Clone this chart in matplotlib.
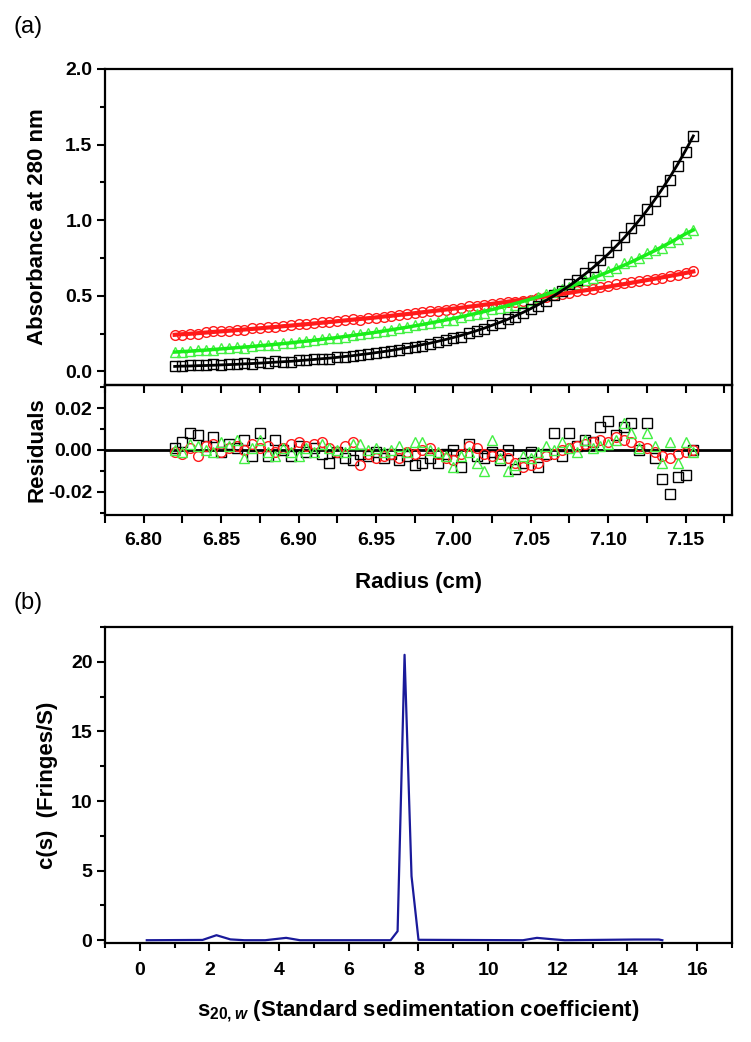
import numpy as np
import matplotlib
matplotlib.use('Agg')
import matplotlib.pyplot as plt
from matplotlib.ticker import MultipleLocator, NullFormatter, FormatStrFormatter

plt.rcParams['font.family'] = ['Liberation Sans', 'DejaVu Sans']
plt.rcParams['font.weight'] = 'bold'
plt.rcParams['axes.unicode_minus'] = False
plt.rcParams['mathtext.fontset'] = 'custom'
plt.rcParams['mathtext.rm'] = 'Liberation Sans'
plt.rcParams['mathtext.it'] = 'Liberation Sans:italic:bold'
plt.rcParams['mathtext.bf'] = 'Liberation Sans:bold'

# ---------------- data: panel (a) ----------------
radius = [6.820, 6.825, 6.830, 6.835, 6.840, 6.845, 6.850, 6.855, 6.860, 6.865,
          6.870, 6.875, 6.880, 6.885, 6.890, 6.895, 6.900, 6.905, 6.910, 6.915,
          6.920, 6.925, 6.930, 6.935, 6.940, 6.945, 6.950, 6.955, 6.960, 6.965,
          6.970, 6.975, 6.980, 6.985, 6.990, 6.995, 7.000, 7.005, 7.010, 7.015,
          7.020, 7.025, 7.030, 7.035, 7.040, 7.045, 7.050, 7.055, 7.060, 7.065,
          7.070, 7.075, 7.080, 7.085, 7.090, 7.095, 7.100, 7.105, 7.110, 7.115,
          7.120, 7.125, 7.130, 7.135, 7.140, 7.145, 7.150, 7.155]

fit_black = [0.033, 0.035, 0.036, 0.038, 0.039, 0.041, 0.043, 0.045, 0.047, 0.050,
             0.052, 0.055, 0.058, 0.061, 0.064, 0.067, 0.071, 0.075, 0.079, 0.084,
             0.088, 0.093, 0.099, 0.104, 0.111, 0.117, 0.124, 0.131, 0.139, 0.148,
             0.157, 0.166, 0.177, 0.187, 0.199, 0.211, 0.224, 0.238, 0.253, 0.269,
             0.286, 0.305, 0.324, 0.344, 0.367, 0.390, 0.415, 0.442, 0.470, 0.500,
             0.533, 0.567, 0.604, 0.643, 0.684, 0.729, 0.776, 0.827, 0.880, 0.938,
             0.999, 1.064, 1.134, 1.208, 1.287, 1.371, 1.461, 1.557]

fit_red = [0.242, 0.246, 0.249, 0.253, 0.257, 0.261, 0.265, 0.269, 0.273, 0.277,
           0.281, 0.285, 0.290, 0.294, 0.299, 0.303, 0.308, 0.312, 0.317, 0.322,
           0.327, 0.332, 0.337, 0.342, 0.347, 0.352, 0.357, 0.363, 0.368, 0.374,
           0.379, 0.385, 0.391, 0.397, 0.403, 0.409, 0.415, 0.421, 0.428, 0.434,
           0.441, 0.447, 0.454, 0.461, 0.468, 0.475, 0.482, 0.489, 0.497, 0.504,
           0.512, 0.520, 0.528, 0.536, 0.544, 0.552, 0.560, 0.569, 0.577, 0.586,
           0.595, 0.604, 0.613, 0.622, 0.632, 0.641, 0.651, 0.661]

fit_green = [0.128, 0.131, 0.134, 0.138, 0.141, 0.145, 0.149, 0.153, 0.157, 0.161,
             0.165, 0.170, 0.174, 0.179, 0.184, 0.189, 0.195, 0.200, 0.206, 0.212,
             0.218, 0.224, 0.231, 0.238, 0.245, 0.252, 0.259, 0.267, 0.275, 0.284,
             0.292, 0.301, 0.310, 0.320, 0.330, 0.340, 0.350, 0.361, 0.373, 0.384,
             0.396, 0.409, 0.422, 0.435, 0.449, 0.463, 0.478, 0.493, 0.509, 0.526,
             0.543, 0.560, 0.578, 0.597, 0.617, 0.637, 0.658, 0.679, 0.701, 0.724,
             0.748, 0.773, 0.798, 0.825, 0.852, 0.881, 0.910, 0.935]

# residuals in units of 0.001
resid_black_milli = [1, 4, 8, 7, 2, 6, -1, 3, 1, 5, -3, 8, -3, 5, 0, -3, 2, -1, 1, -2,
                     -6, -1, -4, -5, -2, -3, -1, -4, -2, -5, -3, -7,
                     -6, -4, -6, -2, 0, -8, 3, -3, -4, -1, -5, 0, -9, -6, -1, -8, -2, 8,
                     -3, 8, 2, 5, 4, 11, 14, 7, 11, 13, 0, 13, -4, -14, -21, -13, -12, 0]
resid_red_milli = [-1, -2, 1, -3, 2, 3, -1, 1, 2, 0,
                   3, 1, 2, -1, 1, 3, 4, 2, 3, 4,
                   1, -1, 2, 4, -7, -2, -4, -3, -2, -4,
                   -1, -2, 0, 1, -2, -4, -5, -2, 2, 1,
                   -2, -3, -2, -4, -6, -8, -7, -6, -3, -2,
                   0, 1, 2, 3, 4, 5, 4, 6, 5, 4,
                   2, 1, -1, -3, -4, -2, -1, 0]
resid_green_milli = [0, -1, 3, 2, 0, -1, 4, 2, 5, -4, 1, 5, -1, -3, 1, -1, -3, 1, -1, 3,
                     1, 0, -1, 3, 3, 0, 1, -1, 0, 2, -1, 4,
                     4, 0, -1, -3, -8, -3, -1, -6, -10, 5, -4, -10, -7, -3, -4, -1, 2, 0,
                     4, 1, -1, 5, 1, 2, 3, 5, 13, 8, 1, 8, 2, -6, 4, -6, 4, -1]

# ---------------- data: panel (b) ----------------
s_values = [0.2, 1.8, 2.2, 2.6, 3.0, 3.6, 4.2, 4.6, 7.2, 7.4, 7.6, 7.8, 8.0,
            11.0, 11.4, 11.8, 12.2, 14.2, 14.9, 15.0]
cs_values = [0.0, 0.02, 0.36, 0.06, 0.0, 0.0, 0.17, 0.0, 0.0, 0.65, 20.5, 4.6, 0.03,
             0.0, 0.17, 0.08, 0.0, 0.05, 0.05, 0.0]

r = np.array(radius)
res_b = np.array(resid_black_milli) * 1e-3
res_r = np.array(resid_red_milli) * 1e-3
res_g = np.array(resid_green_milli) * 1e-3
pts_b = np.array(fit_black) + res_b
pts_r = np.array(fit_red) + res_r
pts_g = np.array(fit_green) + res_g

BLACK = '#000000'
RED = '#ff1a1a'
GREEN = '#1aee1a'
GREEN_MK = '#44f044'
BLUE = '#1a1a9a'

fig = plt.figure(figsize=(7.51, 10.42), dpi=100)
L, W = 0.1398, 0.8349
ax1 = fig.add_axes([L, 0.6305, W, 0.3033])
ax2 = fig.add_axes([L, 0.5058, W, 0.1247])
ax3 = fig.add_axes([L, 0.0950, W, 0.3033])
ax2.set_facecolor('none')

TICK_FS = 14
LABEL_FS = 16

def style(ax):
    for sp in ax.spines.values():
        sp.set_linewidth(1.6)
    ax.tick_params(which='major', direction='out', length=6, width=1.5,
                   labelsize=TICK_FS, pad=3)
    ax.tick_params(which='minor', direction='out', length=3.5, width=1.5)
    ax.tick_params(top=False, right=False, which='both')
    for lab in ax.get_xticklabels() + ax.get_yticklabels():
        lab.set_fontweight('bold')

mk = dict(linestyle='none', markerfacecolor='none', markeredgewidth=1.0)

# panel (a) top
ax1.plot(r, pts_r, marker='o', markersize=7, markeredgecolor=RED, zorder=2, **mk)
ax1.plot(r, pts_g, marker='^', markersize=7.5, markeredgecolor=GREEN_MK, zorder=2, **mk)
ax1.plot(r, pts_b, marker='s', markersize=6.5, markeredgecolor=BLACK, zorder=2, **mk)
ax1.plot(r, fit_red, color=RED, lw=3.0, zorder=3)
ax1.plot(r, fit_green, color=GREEN, lw=2.5, zorder=4)
ax1.plot(r, fit_black, color=BLACK, lw=2.0, zorder=5)
ax1.set_xlim(6.775, 7.18)
ax1.set_ylim(-0.09, 2.0)
ax1.yaxis.set_major_locator(MultipleLocator(0.5))
ax1.yaxis.set_minor_locator(MultipleLocator(0.25))
ax1.yaxis.set_major_formatter(FormatStrFormatter('%.1f'))
ax1.xaxis.set_major_locator(MultipleLocator(0.05))
ax1.xaxis.set_minor_locator(MultipleLocator(0.025))
ax1.xaxis.set_major_formatter(NullFormatter())
style(ax1)
ax1.tick_params(axis='x', which='minor', length=6)
ax1.set_ylabel('Absorbance at 280 nm', fontsize=LABEL_FS, fontweight='bold')
ax1.yaxis.set_label_coords(-0.091, 0.5)

# residuals
ax2.axhline(0, color='black', lw=2, zorder=1)
ax2.plot(r, res_b, marker='s', markersize=6.5, markeredgecolor=BLACK, zorder=2, **mk)
ax2.plot(r, res_r, marker='o', markersize=7, markeredgecolor=RED, zorder=3, **mk)
ax2.plot(r, res_g, marker='^', markersize=7.5, markeredgecolor=GREEN_MK, zorder=4, **mk)
ax2.set_xlim(6.775, 7.18)
ax2.set_ylim(-0.031, 0.031)
ax2.yaxis.set_major_locator(MultipleLocator(0.02))
ax2.yaxis.set_minor_locator(MultipleLocator(0.01))
ax2.yaxis.set_major_formatter(FormatStrFormatter('%.2f'))
ax2.xaxis.set_major_locator(MultipleLocator(0.05))
ax2.xaxis.set_minor_locator(MultipleLocator(0.025))
ax2.xaxis.set_major_formatter(FormatStrFormatter('%.2f'))
style(ax2)
ax2.tick_params(axis='x', which='minor', length=6)
ax2.tick_params(axis='x', which='major', pad=6)
ax2.set_ylabel('Residuals', fontsize=LABEL_FS, fontweight='bold')
ax2.yaxis.set_label_coords(-0.091, 0.5)
ax2.set_xlabel('Radius (cm)', fontsize=LABEL_FS, fontweight='bold')
ax2.xaxis.set_label_coords(0.5, -0.44)

# panel (b)
ax3.plot(s_values, cs_values, color=BLUE, lw=1.6)
ax3.set_xlim(-1, 17)
ax3.set_ylim(-0.2, 22.5)
ax3.xaxis.set_major_locator(MultipleLocator(2))
ax3.xaxis.set_minor_locator(MultipleLocator(1))
ax3.yaxis.set_major_locator(MultipleLocator(5))
ax3.yaxis.set_minor_locator(MultipleLocator(2.5))
style(ax3)
ax3.tick_params(axis='x', which='major', pad=8)
ax3.set_ylabel('c(s)  (Fringes/S)', fontsize=LABEL_FS, fontweight='bold')
ax3.yaxis.set_label_coords(-0.075, 0.5)
ax3.set_xlabel(r'$\mathrm{s}_{\mathit{20,w}}$' + ' (Standard sedimentation coefficient)',
               fontsize=LABEL_FS, fontweight='bold')
ax3.xaxis.set_label_coords(0.5, -0.175)

fig.text(0.037, 0.974, '(a)', fontsize=17, fontweight='normal', ha='center', va='center')
fig.text(0.037, 0.4213, '(b)', fontsize=17, fontweight='normal', ha='center', va='center')

fig.savefig('out.png', dpi=100)
